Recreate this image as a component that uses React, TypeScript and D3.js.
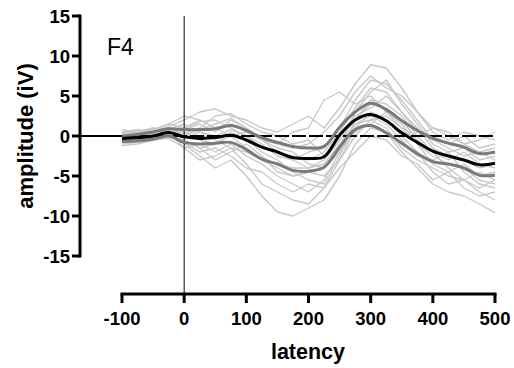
import React from 'react';
import * as d3 from 'd3';

// latency grid (ms) for every trace
const latency = [-100, -75, -50, -25, 0, 25, 50, 75, 100, 125, 150, 175, 200, 225, 250, 275, 300, 325, 350, 375, 400, 425, 450, 475, 500];

const grandMean = [-0.3, -0.2, 0.0, 0.45, -0.1, -0.3, -0.2, 0.1, -0.5, -1.4, -2.0, -2.7, -2.8, -2.6, 0.1, 2.0, 2.7, 1.9, 0.4, -0.8, -1.9, -2.5, -3.0, -3.6, -3.4];
const meanUpper = [0.0, 0.2, 0.5, 0.9, 0.8, 0.8, 0.9, 1.3, 0.7, -0.2, -0.8, -1.3, -1.5, -1.3, 1.1, 3.0, 4.1, 3.3, 1.9, 0.7, -0.3, -0.9, -1.4, -2.2, -2.0];
const meanLower = [-0.7, -0.6, -0.4, 0.0, -0.8, -1.0, -0.9, -0.8, -1.7, -2.9, -3.5, -4.3, -4.4, -3.9, -1.4, 0.8, 1.3, 0.4, -0.9, -2.2, -3.2, -3.5, -4.0, -4.9, -4.9];

const subjects = [
  [0.5, 0.8, 0.3, 1.2, 2.0, 3.0, 3.4, 2.5, 2.0, 1.0, 0.5, 1.5, 2.5, 1.0, 3.5, 6.5, 8.9, 8.5, 6.0, 3.0, 0.5, -0.5, 0.5, 0.0, -0.5],
  [-0.5, -0.3, 0.2, 0.8, -1.0, -2.5, -4.0, -3.0, -5.0, -7.5, -9.5, -10.0, -9.0, -8.0, -5.0, -1.0, 1.0, 0.5, -2.0, -4.0, -6.0, -7.0, -7.5, -8.5, -9.6],
  [0.2, 0.5, 1.0, 0.5, 0.0, 0.8, 1.5, 2.2, 1.0, -0.5, -1.5, -2.0, -3.5, -4.0, -1.5, 3.0, 5.5, 7.0, 4.0, 1.5, -1.0, -2.0, -1.5, -3.0, -2.5],
  [-1.0, -0.8, -0.5, 0.0, -0.5, -1.5, -1.0, 0.0, -1.5, -3.0, -4.0, -5.0, -4.5, -5.0, -3.0, 0.0, 2.0, 2.5, 1.0, -1.0, -2.5, -3.5, -4.0, -5.5, -6.0],
  [0.0, 0.3, 0.8, 1.5, 2.5, 2.0, 1.0, 1.5, 0.5, 0.0, -1.0, 0.5, 1.0, 4.5, 5.5, 4.0, 5.0, 3.0, 1.0, 0.0, 1.0, 0.5, -1.0, -0.5, 0.5],
  [-0.8, -0.5, 0.0, 0.5, -1.5, -3.0, -2.5, -1.5, -3.5, -6.0, -7.0, -8.0, -8.5, -6.5, -3.0, 1.0, 3.0, 2.0, 0.0, -2.0, -4.5, -6.0, -5.5, -7.0, -8.0],
  [0.3, 0.0, -0.3, 0.3, 1.0, 1.8, 2.0, 1.0, 0.0, -1.0, -2.5, -3.0, -2.0, -1.5, 1.0, 4.5, 7.0, 6.5, 4.5, 2.0, -0.5, -1.5, -2.5, -2.0, -3.0],
  [-0.3, -0.5, -0.2, 0.2, 0.5, -0.5, -1.0, 0.5, -0.5, -2.0, -3.0, -4.5, -5.5, -6.0, -2.5, 2.0, 4.0, 3.5, 2.0, -0.5, -2.0, -4.0, -5.5, -4.5, -5.5],
  [0.8, 0.5, 0.2, 1.0, 0.3, 1.0, 2.5, 2.8, 1.5, 0.5, 0.0, -1.0, -0.5, -2.5, 0.0, 2.5, 3.5, 5.0, 3.0, 0.5, 0.0, -1.0, 0.0, -1.5, -1.0],
  [-0.5, -0.2, 0.5, 0.0, -0.8, -2.0, -1.5, -2.5, -4.0, -4.5, -6.0, -7.0, -6.0, -6.5, -4.0, -2.0, 0.0, -0.5, -2.5, -3.5, -5.5, -4.5, -6.5, -7.5, -7.0],
  [0.0, 0.5, 1.0, 0.8, 1.5, 0.5, 0.0, 0.8, 0.0, -1.5, -2.0, -2.5, -3.0, -2.0, 0.5, 3.5, 6.0, 5.5, 3.0, 1.0, -1.5, -2.5, -3.0, -4.0, -3.5],
  [-1.2, -1.0, -0.5, -0.3, -1.5, -1.0, -2.0, -1.0, -2.5, -3.5, -5.0, -6.0, -7.0, -5.5, -2.0, 0.5, 1.5, 3.0, 1.5, -1.0, -3.5, -4.5, -3.5, -5.0, -4.5],
  [0.4, 0.8, 0.5, 1.5, 1.0, 2.0, 1.0, 0.0, 0.5, -0.5, -1.0, -1.5, -1.0, 0.5, 2.5, 5.5, 7.5, 6.0, 5.0, 3.0, 1.0, 0.0, -1.0, -2.0, -1.5],
  [-0.2, 0.2, 0.0, 0.5, -0.3, 0.5, -0.5, -1.5, -2.0, -3.0, -3.5, -4.0, -4.0, -3.5, -1.0, 1.5, 2.5, 1.5, -0.5, -2.5, -3.0, -2.0, -4.5, -6.0, -6.5],
  [0.6, 0.3, 0.8, 0.2, 0.8, 1.5, 0.5, 2.0, 1.0, -0.5, -2.0, -3.0, -4.0, -3.0, -0.5, 2.0, 4.5, 4.0, 2.5, 0.0, -2.0, -3.0, -2.0, -3.5, -4.0],
  [-0.6, -0.8, -0.2, 0.0, -0.5, -1.5, -3.0, -2.0, -1.0, -2.5, -4.5, -5.0, -4.5, -4.0, -2.0, 1.5, 2.0, 1.0, -1.5, -3.0, -4.0, -5.0, -5.5, -6.5, -5.5],
];

const xTicks = [-100, 0, 100, 200, 300, 400, 500];
const yTicks = [-15, -10, -5, 0, 5, 10, 15];

const font = 'Arial, "Liberation Sans", Helvetica, sans-serif';

export default function App() {
  const x = d3.scaleLinear().domain([-100, 500]).range([122, 495]);
  const y = d3.scaleLinear().domain([-15, 15]).range([256, 16]);
  const axisX = 80;
  const axisY = 294;

  const thin = d3.line<number>().x((_, i) => x(latency[i])).y((v) => y(v));
  const smooth = d3
    .line<number>()
    .x((_, i) => x(latency[i]))
    .y((v) => y(v))
    .curve(d3.curveCatmullRom.alpha(0.5));

  return (
    <svg width={514} height={368} style={{ position: 'absolute', left: 0, top: 0, background: '#fff' }}>
      {/* individual traces */}
      {subjects.map((s, i) => (
        <path key={i} d={thin(s) || ''} fill="none" stroke="#c8c8c8" strokeWidth={1.4} strokeLinejoin="round" />
      ))}

      {/* zero lines */}
      <line x1={axisX} x2={x(-100)} y1={y(0)} y2={y(0)} stroke="#000" strokeWidth={2} />
      <line x1={x(-100)} x2={x(500)} y1={y(0)} y2={y(0)} stroke="#000" strokeWidth={2} strokeDasharray="14 3" />
      <line x1={x(0)} x2={x(0)} y1={y(15)} y2={axisY} stroke="#000" strokeWidth={1} />

      {/* mean and error lines */}
      <path d={smooth(meanUpper) || ''} fill="none" stroke="#7a7a7a" strokeWidth={3} />
      <path d={smooth(meanLower) || ''} fill="none" stroke="#7a7a7a" strokeWidth={3} />
      <path d={smooth(grandMean) || ''} fill="none" stroke="#000" strokeWidth={3} />

      {/* y axis */}
      <line x1={axisX} x2={axisX} y1={y(15) - 1.5} y2={y(-15) + 1.5} stroke="#000" strokeWidth={3} />
      {yTicks.map((t) => (
        <g key={t}>
          <line x1={axisX - 8} x2={axisX} y1={y(t)} y2={y(t)} stroke="#000" strokeWidth={3} />
          <text
            x={axisX - 10}
            y={y(t)}
            dy="0.36em"
            textAnchor="end"
            fontFamily={font}
            fontWeight="bold"
            fontSize={18.5}
          >
            {t}
          </text>
        </g>
      ))}
      <text
        transform={`translate(33,${y(0)}) rotate(-90)`}
        textAnchor="middle"
        fontFamily={font}
        fontWeight="bold"
        fontSize={22}
      >
        amplitude (iV)
      </text>

      {/* x axis */}
      <line x1={x(-100) - 1.5} x2={x(500) + 1.5} y1={axisY} y2={axisY} stroke="#000" strokeWidth={3} />
      {xTicks.map((t) => (
        <g key={t}>
          <line x1={x(t)} x2={x(t)} y1={axisY} y2={axisY + 9} stroke="#000" strokeWidth={3} />
          <text x={x(t)} y={325} textAnchor="middle" fontFamily={font} fontWeight="bold" fontSize={18.5}>
            {t}
          </text>
        </g>
      ))}
      <text x={308} y={359} textAnchor="middle" fontFamily={font} fontWeight="bold" fontSize={21.5}>
        latency
      </text>

      <text x={107} y={55} fontFamily={font} fontSize={23}>
        F4
      </text>
    </svg>
  );
}
